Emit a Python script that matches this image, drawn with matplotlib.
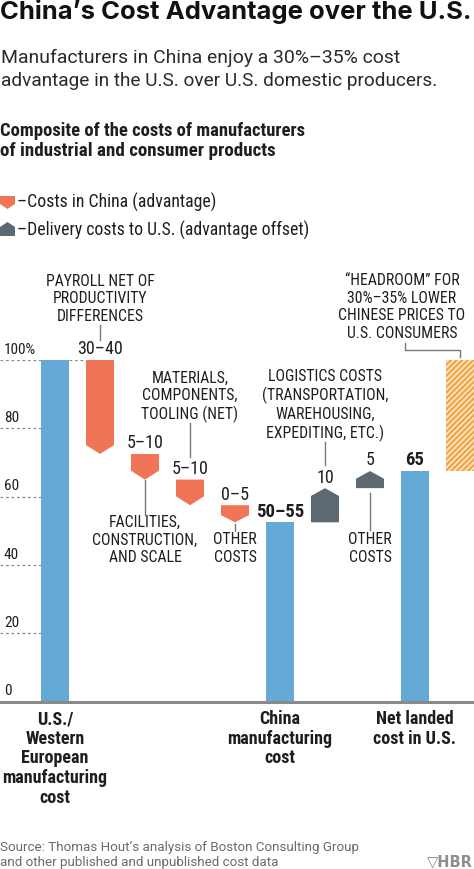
import matplotlib
matplotlib.use("Agg")
import matplotlib.pyplot as plt
import numpy as np
from matplotlib import font_manager as fm
from matplotlib.patches import Polygon, Rectangle

# ------------------------------------------------------
# Data
# ------------------------------------------------------
bar_labels = [
    "U.S./\nWestern\nEuropean\nmanufacturing\ncost",
    "China\nmanufacturing\ncost",
    "Net landed\ncost in U.S.",
]
bar_pos = [0, 5, 8]
bar_values = [100, 52.5, 67.5]
bar_texts = ["", "50–55", "65"]

china_pos = [1, 2, 3, 4]
china_drops = [27.5, 7.5, 7.5, 5.0]
china_texts = ["30–40", "5–10", "5–10", "0–5"]

delivery_pos = [6, 7]
delivery_adds = [10.0, 5.0]
delivery_texts = ["10", "5"]

headroom_pos = 9
headroom_low, headroom_high = 67.5, 100

yticks = [0, 20, 40, 60, 80, 100]
ytick_labels = ["0", "20", "40", "60", "80", "100%"]

# ------------------------------------------------------
# Style
# ------------------------------------------------------
BLUE = "#65AAD6"
ORANGE = "#F07556"
GRAY = "#5D6970"
HATCH = "#F2A540"
LINE = "#8A8A8A"
TXT = "#1E1E1E"

names = {f.name for f in fm.fontManager.ttflist}


def pick(*cands):
    for c in cands:
        if c in names:
            return c
    return "DejaVu Sans"


NARROW = pick("Liberation Sans Narrow", "Roboto Condensed", "Liberation Sans")
TITLE_FONT = pick("Inter", "Roboto", "Lato")
BODY_FONT = pick("Roboto", "Lato", "Open Sans")

W, H = 474, 869
fig = plt.figure(figsize=(W / 100, H / 100), dpi=100)


def fx(x):
    return x / W


def fy(y):
    return 1 - y / H


# ------------------------------------------------------
# Header texts
# ------------------------------------------------------
renderer = fig.canvas.get_renderer()


def fit_text(x, y, s, width_px, **kw):
    t = fig.text(fx(x), fy(y), s, **kw)
    w = t.get_window_extent(renderer).width
    t.set_fontsize(t.get_fontsize() * width_px / w)
    return t


fit_text(0, 18.5, "China’s Cost Advantage over the U.S.", 471,
         fontsize=17, fontweight="bold", family=TITLE_FONT, color="#111111",
         va="baseline", ha="left")
fit_text(1, 63, "Manufacturers in China enjoy a 30%–35% cost", 399,
         fontsize=13, family=BODY_FONT, color="#2A2A2A", va="baseline", ha="left")
fit_text(1, 86, "advantage in the U.S. over U.S. domestic producers.", 436,
         fontsize=13, family=BODY_FONT, color="#2A2A2A", va="baseline", ha="left")
fit_text(0, 136.5, "Composite of the costs of manufacturers", 305,
         fontsize=11, fontweight="bold", family=NARROW, color=TXT,
         va="baseline", ha="left")
fit_text(0, 156.5, "of industrial and consumer products", 273,
         fontsize=11, fontweight="bold", family=NARROW, color=TXT,
         va="baseline", ha="left")

# legend
fig.patches.append(Polygon(
    [(fx(0), fy(196)), (fx(15), fy(196)), (fx(15), fy(204)),
     (fx(7.5), fy(209)), (fx(0), fy(204))],
    closed=True, transform=fig.transFigure, facecolor=ORANGE, edgecolor="none"))
fig.patches.append(Polygon(
    [(fx(0), fy(236)), (fx(15), fy(236)), (fx(15), fy(227)),
     (fx(7.5), fy(222)), (fx(0), fy(227))],
    closed=True, transform=fig.transFigure, facecolor=GRAY, edgecolor="none"))
fit_text(17, 208, "–Costs in China (advantage)", 198,
         fontsize=13, family=NARROW, color=TXT, va="baseline", ha="left")
fit_text(17, 236, "–Delivery costs to U.S. (advantage offset)", 290,
         fontsize=13, family=NARROW, color=TXT, va="baseline", ha="left")

# ------------------------------------------------------
# Chart axes
# ------------------------------------------------------
Y0, Y100 = 701.7, 360.0
ax = fig.add_axes([0, fy(Y0), 1, (Y0 - Y100) / H])
ax.set_xlim(-55 / 45, 419 / 45)
ax.set_ylim(0, 100)
ax.axis("off")

bw = 28 / 45
unit = (Y0 - Y100) / 100  # px per value unit
xl = ax.get_xlim()[0]

# gridlines + tick labels
for v, lab in zip(yticks, ytick_labels):
    if v > 0:
        ax.plot([xl, bar_pos[0] - bw / 2], [v, v], color=LINE, lw=0.9,
                ls=(0, (2.2, 2.2)), zorder=1)
    ax.text(xl + 4 / 45, v + 3.0, lab, ha="left", va="center",
            fontsize=11, family=NARROW, color=TXT)
ax.plot([bar_pos[0] + bw / 2, china_pos[0] - bw / 2], [100, 100], color=LINE,
        lw=0.9, ls=(0, (2.2, 2.2)), zorder=1)

# baseline
ax.axhline(0, color=LINE, lw=2.2, zorder=3, clip_on=False)

# main bars
ax.bar(bar_pos, bar_values, width=bw, color=BLUE, zorder=2)
for x, v, t in zip(bar_pos, bar_values, bar_texts):
    if t:
        ax.annotate(t, (x, v), xytext=(0, 4), textcoords="offset points",
                    ha="center", va="baseline", fontsize=13.5,
                    fontweight="bold", family=NARROW, color=TXT)

# china advantage markers (pointing down)
china_tops = 100 - np.concatenate([[0], np.cumsum(china_drops)[:-1]])
for x, top, d, t in zip(china_pos, china_tops, china_drops, china_texts):
    bot = top - d
    tip = min(2.6, 0.42 * d)
    ax.add_patch(Polygon(
        [(x - bw / 2, top), (x + bw / 2, top), (x + bw / 2, bot + tip),
         (x, bot), (x - bw / 2, bot + tip)],
        closed=True, facecolor=ORANGE, edgecolor="none", zorder=2))
    ax.annotate(t, (x, top), xytext=(0, 4), textcoords="offset points",
                ha="center", va="baseline", fontsize=13, family=NARROW,
                color=TXT)

# delivery markers (pointing up)
del_bots = bar_values[1] + np.concatenate([[0], np.cumsum(delivery_adds)[:-1]])
for x, bot, a, t in zip(delivery_pos, del_bots, delivery_adds, delivery_texts):
    top = bot + a
    tip = min(2.3, 0.45 * a)
    ax.add_patch(Polygon(
        [(x - bw / 2, bot), (x + bw / 2, bot), (x + bw / 2, top - tip),
         (x, top), (x - bw / 2, top - tip)],
        closed=True, facecolor=GRAY, edgecolor="none", zorder=2))
    ax.annotate(t, (x, top), xytext=(0, 4), textcoords="offset points",
                ha="center", va="baseline", fontsize=13, family=NARROW,
                color=TXT)

# headroom (hatched)
plt.rcParams["hatch.linewidth"] = 1.6
ax.add_patch(Rectangle((headroom_pos - bw / 2, headroom_low), bw,
                       headroom_high - headroom_low, facecolor="#FCE9CC",
                       edgecolor=HATCH, hatch="//////", lw=0, zorder=2))


# ------------------------------------------------------
# Annotations
# ------------------------------------------------------
def v_of(ypx):
    return (Y0 - ypx) / unit


def note(x, ycen_px, s):
    ax.text(x, v_of(ycen_px), s, ha="center", va="center", fontsize=11.3,
            family=NARROW, color=TXT, linespacing=1.2)


def leader(x, y1_px, y2_px):
    ax.plot([x, x], [v_of(y1_px), v_of(y2_px)], color="#777777", lw=1,
            zorder=1, clip_on=False)


note(1, 298.7, "PAYROLL NET OF\nPRODUCTIVITY\nDIFFERENCES")
leader(1, 325, 340)
note(3, 397, "MATERIALS,\nCOMPONENTS,\nTOOLING (NET)")
leader(3, 423, 457)
note(2, 540, "FACILITIES,\nCONSTRUCTION,\nAND SCALE")
leader(2, 480, 515)
note(4, 548.5, "OTHER\nCOSTS")
leader(4, 524, 531)
note(6, 405.5, "LOGISTICS COSTS\n(TRANSPORTATION,\nWAREHOUSING,\nEXPEDITING, ETC.)")
leader(6, 442, 465)
note(7, 548.5, "OTHER\nCOSTS")
leader(7, 493, 530)
note(7.71, 307, "“HEADROOM” FOR\n30%–35% LOWER\nCHINESE PRICES TO\nU.S. CONSUMERS")
ax.plot([7.78, 7.78, headroom_pos, headroom_pos],
        [v_of(343), v_of(350), v_of(350), v_of(357)],
        color="#777777", lw=1, clip_on=False)

# category labels
for x, lab in zip(bar_pos, bar_labels):
    ax.text(x, v_of(710), lab, ha="center", va="top", fontsize=13,
            fontweight="bold", family=NARROW, color=TXT, linespacing=1.12)

# ------------------------------------------------------
# Footer
# ------------------------------------------------------
fit_text(0, 851, "Source: Thomas Hout’s analysis of Boston Consulting Group", 359,
         fontsize=9, family=BODY_FONT, color="#6A6A6A", ha="left", va="baseline")
fit_text(0, 866, "and other published and unpublished cost data", 281,
         fontsize=9, family=BODY_FONT, color="#6A6A6A", ha="left", va="baseline")
fig.text(fx(473), fy(866), "▽HBR", ha="right", va="baseline", fontsize=10.5,
         fontweight="bold", family="DejaVu Sans", color="#8F8F8F")

fig.savefig("out.png", dpi=100)
